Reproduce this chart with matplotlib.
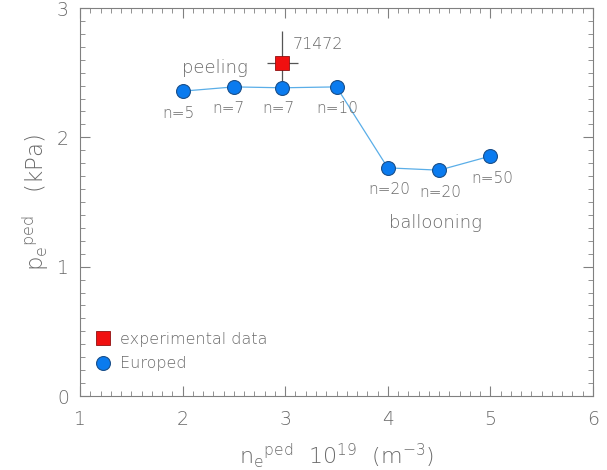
import matplotlib
matplotlib.use("Agg")
import matplotlib.pyplot as plt
from matplotlib.ticker import MultipleLocator
from matplotlib.lines import Line2D

plt.rcParams["font.family"] = ["DejaVu Sans"]
plt.rcParams["font.weight"] = "light"
plt.rcParams["mathtext.fontset"] = "custom"
plt.rcParams["mathtext.rm"] = "DejaVu Sans:light"
plt.rcParams["mathtext.it"] = "DejaVu Sans:light"
plt.rcParams["mathtext.default"] = "rm"

# ---- data ----
density = [2.0, 2.5, 2.97, 3.5, 4.0, 4.5, 5.0]
pressure = [2.357, 2.39, 2.383, 2.39, 1.764, 1.746, 1.855]
mode_n = ["n=5", "n=7", "n=7", "n=10", "n=20", "n=20", "n=50"]
label_x = [1.96, 2.45, 2.935, 3.51, 4.01, 4.51, 5.015]
label_y = [2.187, 2.226, 2.226, 2.226, 1.60, 1.576, 1.685]

exp_density = [2.97]
exp_pressure = [2.576]
exp_xerr = [0.15]
exp_yerr = [0.25]
shot = "71472"

xticks = [1, 2, 3, 4, 5, 6]
yticks = [0, 1, 2, 3]

GRAY = "#6a6a6a"
AXC = "#808080"

fig = plt.figure(figsize=(6.07, 4.70), dpi=100)
ax = fig.add_axes([80/607, (470-396)/470, (593-80)/607, (396-8)/470])

ax.errorbar(exp_density, exp_pressure, xerr=exp_xerr, yerr=exp_yerr,
            fmt="none", ecolor="#555555", elinewidth=0.9, capsize=0, zorder=2)
ax.plot(density, pressure, "-", color="#5aaee8", lw=0.9, zorder=1)
ax.plot(density, pressure, "o", ms=10, mfc="#0a7bef", mec="#1a4f8a", mew=0.8,
        ls="none", zorder=3)
ax.plot(exp_density, exp_pressure, "s", ms=9.5, mfc="#f01010", mec="#901010",
        mew=0.6, ls="none", zorder=4)

for t, x, y in zip(mode_n, label_x, label_y):
    ax.text(x, y, t, ha="center", va="center", fontsize=11, color=GRAY)

ax.text(3.07, 2.72, shot, ha="left", va="center", fontsize=11.5, color=GRAY)
ax.text(2.32, 2.535, "peeling", ha="center", va="center", fontsize=13, color=GRAY)
ax.text(4.465, 1.337, "ballooning", ha="center", va="center", fontsize=13, color=GRAY)

ax.set_xlim(1, 6)
ax.set_ylim(0, 3)
ax.set_xticks(xticks)
ax.set_yticks(yticks)
ax.xaxis.set_minor_locator(MultipleLocator(0.1))
ax.yaxis.set_minor_locator(MultipleLocator(0.1))
ax.tick_params(which="both", direction="in", top=True, right=True,
               color=AXC, labelcolor=GRAY, labelsize=13.5)
ax.tick_params(which="major", length=7, width=0.8)
ax.tick_params(which="minor", length=3.5, width=0.6)
ax.tick_params(axis="x", pad=10)
ax.tick_params(axis="y", pad=8)
for s in ax.spines.values():
    s.set_color(AXC)
    s.set_linewidth(0.8)

ax.set_xlabel(r"$\mathrm{n_e{}^{ped}\ \ 10^{19}\ \ (m^{-3})}$",
              fontsize=16, color=GRAY, labelpad=9)
ax.set_ylabel(r"$\mathrm{p_e{}^{ped}\ \ \ (kPa)}$", fontsize=16.5,
              color=GRAY, labelpad=4)

handles = [
    Line2D([], [], marker="s", ls="none", ms=9.5, mfc="#f01010", mec="#901010", mew=0.6),
    Line2D([], [], marker="o", ls="none", ms=10, mfc="#0a7bef", mec="#1a4f8a", mew=0.8),
]
leg = ax.legend(handles, ["experimental data", "Europed"], loc="lower left",
                bbox_to_anchor=(0.0, 0.035), frameon=False, fontsize=11.5,
                handletextpad=0.3, labelspacing=0.6, handlelength=1.5,
                borderaxespad=0.3)
for t in leg.get_texts():
    t.set_color(GRAY)

fig.savefig("out.png", dpi=100)
